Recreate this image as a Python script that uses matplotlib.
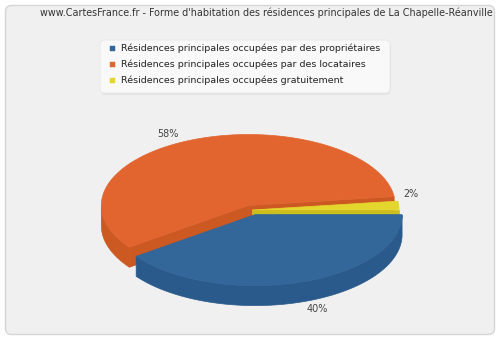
import numpy as np
import matplotlib.pyplot as plt
from matplotlib.patches import Polygon, FancyBboxPatch, Rectangle

titre = "www.CartesFrance.fr - Forme d'habitation des résidences principales de La Chapelle-Réanville"
categories = ["Résidences principales occupées par des propriétaires",
              "Résidences principales occupées par des locataires",
              "Résidences principales occupées gratuitement"]
valeurs = [40, 58, 2]
etiquettes = ["40%", "58%", "2%"]
couleurs = ["#336699", "#e2652f", "#e3d72e"]
couleurs_cote = ["#2a5a8b", "#cc5822", "#cbbf1e"]
eclats = [0.068, 0.068, 0.0]

# géométrie du camembert (en pixels)
cx, cy = 252, 210
rx, ry = 147, 71
ep = 20

fig = plt.figure(figsize=(5, 3.4), dpi=100)
ax = fig.add_axes([0, 0, 1, 1])
ax.set_xlim(0, 500)
ax.set_ylim(340, 0)
ax.axis('off')

fond = FancyBboxPatch((5.5, 5.5), 489, 329, boxstyle='round,pad=0,rounding_size=6',
                      fc='#f0f0f0', ec='#d6d6d6', lw=1)
ax.add_patch(fond)

ax.text(493, 13, titre, ha='right', va='center', fontsize=6.9, color='#333333')


def pt(t, ox, oy, dz=0):
    r = np.radians(t)
    return (ox + rx * np.cos(r), oy - ry * np.sin(r) + dz)


def centre(i, m):
    return (cx + eclats[i] * rx * np.cos(m), cy - eclats[i] * ry * np.sin(m))


# angles des parts (sens horaire depuis 3h)
total = float(sum(valeurs))
parts = []
debut = 0.0
for i, v in enumerate(valeurs):
    a2 = debut
    a1 = debut - 360.0 * v / total
    parts.append((i, a1, a2))
    debut = a1

# de l'arrière vers l'avant
ordre = sorted(parts, key=lambda p: -np.sin(np.radians((p[1] + p[2]) / 2)))

for i, a1, a2 in ordre:
    m = np.radians((a1 + a2) / 2)
    ox, oy = centre(i, m)
    fc, sc = couleurs[i], couleurs_cote[i]

    # faces radiales visibles
    for a, vis in ((a1, np.cos(np.radians(a1)) > 0), (a2, np.cos(np.radians(a2)) < 0)):
        if vis:
            poly = [(ox, oy), pt(a, ox, oy), pt(a, ox, oy, ep), (ox, oy + ep)]
            ax.add_patch(Polygon(poly, closed=True, fc=sc, ec=sc, lw=0.5))

    # bord extérieur visible
    t = np.linspace(a1, a2, 300)
    vis = np.sin(np.radians(t)) < 0
    if vis.any():
        idx = np.where(vis)[0]
        groupes = np.split(idx, np.where(np.diff(idx) > 1)[0] + 1)
        for g in groupes:
            tt = t[g]
            haut = [pt(a, ox, oy) for a in tt]
            bas = [pt(a, ox, oy, ep) for a in tt[::-1]]
            ax.add_patch(Polygon(haut + bas, closed=True, fc=sc, ec=sc, lw=0.5))

    # dessus
    dessus = [(ox, oy)] + [pt(a, ox, oy) for a in t]
    ax.add_patch(Polygon(dessus, closed=True, fc=fc, ec=fc, lw=0.5))

# étiquettes
for i, a1, a2 in parts:
    md = (a1 + a2) / 2
    m = np.radians(md)
    ox, oy = centre(i, m)
    x, y = pt(md, ox, oy, ep if np.sin(m) < 0 else 0)
    if np.cos(m) > 0.9:
        x, y, ha, va = x + 5, y - 7, 'left', 'bottom'
    elif np.cos(m) > 0:
        x, y, ha = x + 6, y + 2, 'left'
        va = 'top' if np.sin(m) < 0 else 'bottom'
    else:
        x, ha = x - 16, 'right'
        va = 'top' if np.sin(m) < 0 else 'bottom'
    ax.text(x, y, etiquettes[i], ha=ha, va=va, fontsize=6.9, color='#444444')

# légende
ax.add_patch(FancyBboxPatch((101, 42), 290, 53, boxstyle='round,pad=0,rounding_size=5',
                            fc='#dcdcdc', ec='none', alpha=0.6))
ax.add_patch(FancyBboxPatch((100, 40), 290, 53, boxstyle='round,pad=0,rounding_size=5',
                            fc='#f9f9f9', ec='#e8e8e8', lw=0.6))
for k, (nom, c) in enumerate(zip(categories, couleurs)):
    yl = 48 + 16 * k
    ax.add_patch(Rectangle((110, yl - 2.5), 5, 5, fc=c, ec=c, lw=0.3))
    ax.text(121, yl, nom, ha='left', va='center', fontsize=6.8, color='#222222')

fig.savefig('out.png', dpi=100, facecolor='white')
